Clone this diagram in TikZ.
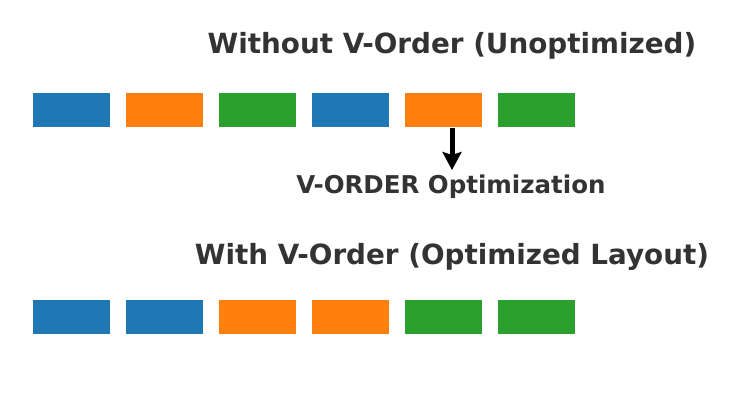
\documentclass[tikz,border=0pt]{standalone}
\usepackage{fontspec}
\setmainfont{DejaVu Sans}
\usetikzlibrary{arrows.meta}
\definecolor{mblue}{HTML}{1F77B4}
\definecolor{morange}{HTML}{FF7F0E}
\definecolor{mgreen}{HTML}{2CA02C}
\definecolor{txt}{HTML}{333333}
\tikzset{
  blk/.style={minimum width=76.7bp, minimum height=33.4bp, inner sep=0pt, draw=none},
  bigtitle/.style={anchor=base, inner sep=0pt, text=txt, font=\bfseries\fontsize{27.9pt}{32pt}\selectfont},
  midlabel/.style={anchor=base, inner sep=0pt, text=txt, font=\bfseries\fontsize{24.6pt}{28pt}\selectfont},
  flow/.style={line width=5bp, black, -{Stealth[length=18bp, width=19bp, inset=3bp]}}
}
\begin{document}
\begin{tikzpicture}[x=1bp, y=-1bp]
\fill[white] (0,0) rectangle (730,408);
\useasboundingbox (0,0) rectangle (730,408);
% top row
\node[blk, fill=mblue]   (t1) at (71.7,110) {};
\node[blk, fill=morange] (t2) at (164.7,110) {};
\node[blk, fill=mgreen]  (t3) at (257.7,110) {};
\node[blk, fill=mblue]   (t4) at (350.7,110) {};
\node[blk, fill=morange] (t5) at (443.7,110) {};
\node[blk, fill=mgreen]  (t6) at (536.7,110) {};
% bottom row
\node[blk, fill=mblue]   (b1) at (71.7,317) {};
\node[blk, fill=mblue]   (b2) at (164.7,317) {};
\node[blk, fill=morange] (b3) at (257.7,317) {};
\node[blk, fill=morange] (b4) at (350.7,317) {};
\node[blk, fill=mgreen]  (b5) at (443.7,317) {};
\node[blk, fill=mgreen]  (b6) at (536.7,317) {};
% texts
\node[bigtitle] (h1) at (452,53) {Without V-Order (Unoptimized)};
\node[midlabel] (m1) at (451,193.5) {V-ORDER Optimization};
\node[bigtitle] (h2) at (452,264) {With V-Order (Optimized Layout)};
% arrow
\coordinate (as) at (452,128);
\coordinate (ae) at (452,170);
\draw[flow] (as) -- (ae);
\end{tikzpicture}
\end{document}
